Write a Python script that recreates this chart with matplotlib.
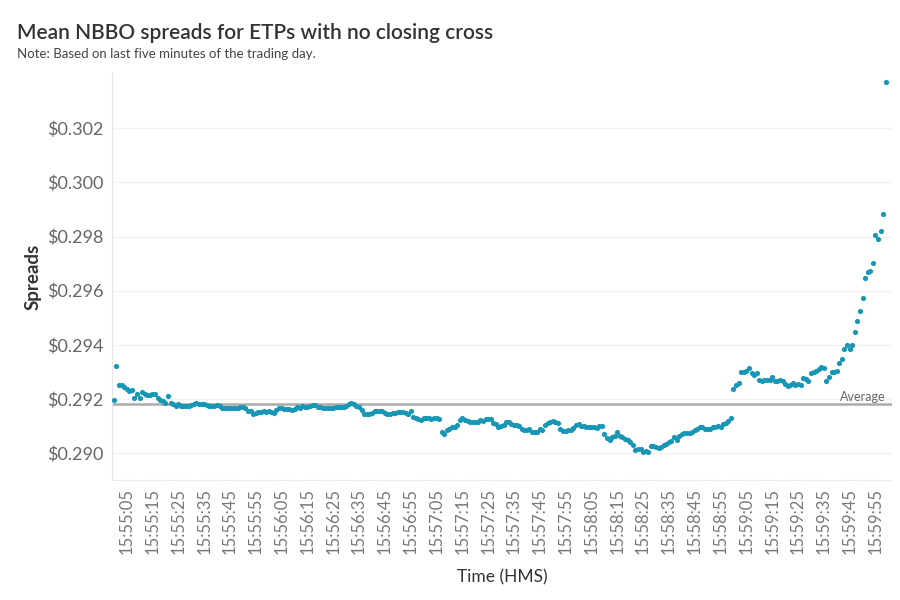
import numpy as np
import matplotlib.pyplot as plt

plt.rcParams['font.family'] = ['Lato', 'DejaVu Sans']

# mean NBBO spread per second, 15:55:00 .. 15:59:59
spreads = [
    0.29195, 0.29322, 0.29252, 0.29250, 0.29245, 0.29238, 0.29230, 0.29232, 0.29205, 0.29218,
    0.29205, 0.29225, 0.29218, 0.29213, 0.29215, 0.29218, 0.29218, 0.29205, 0.29198, 0.29192,
    0.29185, 0.29210, 0.29184, 0.29180, 0.29174, 0.29180, 0.29174, 0.29174, 0.29174, 0.29176,
    0.29178, 0.29180, 0.29184, 0.29182, 0.29182, 0.29180, 0.29178, 0.29174, 0.29174, 0.29176,
    0.29178, 0.29174, 0.29166, 0.29166, 0.29166, 0.29168, 0.29168,
    0.29168, 0.29168, 0.29169, 0.29169, 0.29166, 0.29157, 0.29155, 0.29145, 0.29150, 0.29153,
    0.29153, 0.29155, 0.29153, 0.29155, 0.29153, 0.29148, 0.29160, 0.29166, 0.29166, 0.29164,
    0.29162, 0.29162, 0.29160, 0.29164, 0.29169, 0.29168, 0.29174, 0.29172, 0.29169, 0.29176,
    0.29178, 0.29178, 0.29172, 0.29170, 0.29166, 0.29166, 0.29166, 0.29168, 0.29166, 0.29172,
    0.29172, 0.29170, 0.29172, 0.29174, 0.29182, 0.29184, 0.29182, 0.29176, 0.29170, 0.29160,
    0.29145, 0.29145, 0.29145, 0.29150,
    0.29156, 0.29156, 0.29156, 0.29155, 0.29148, 0.29145, 0.29145, 0.29148, 0.29148, 0.29153,
    0.29153, 0.29153, 0.29148, 0.29145, 0.29156, 0.29135, 0.29131, 0.29128, 0.29122, 0.29129,
    0.29131, 0.29131, 0.29128, 0.29131, 0.29131, 0.29126, 0.29078, 0.29070, 0.29086, 0.29088,
    0.29098, 0.29098, 0.29104, 0.29122, 0.29129, 0.29122, 0.29120, 0.29116, 0.29114, 0.29114,
    0.29114, 0.29122, 0.29120, 0.29125, 0.29125, 0.29127, 0.29112, 0.29107, 0.29098, 0.29100, 0.29104,
    0.29116, 0.29116, 0.29108, 0.29104, 0.29104, 0.29102, 0.29090, 0.29086, 0.29086, 0.29090,
    0.29077, 0.29077, 0.29079, 0.29088, 0.29086, 0.29104, 0.29112, 0.29116, 0.29118, 0.29116,
    0.29112, 0.29090, 0.29082, 0.29082, 0.29084, 0.29086, 0.29092, 0.29104, 0.29108, 0.29102,
    0.29100, 0.29098, 0.29098, 0.29098, 0.29096, 0.29092, 0.29100, 0.29100, 0.29070, 0.29057,
    0.29049, 0.29058, 0.29065, 0.29079, 0.29062, 0.29058, 0.29052, 0.29049, 0.29042, 0.29030, 0.29012,
    0.29014, 0.29016, 0.29006, 0.29008, 0.29006, 0.29027, 0.29027, 0.29022, 0.29018, 0.29022,
    0.29030, 0.29034, 0.29040, 0.29046, 0.29059, 0.29050, 0.29062, 0.29070, 0.29073, 0.29073,
    0.29076, 0.29078, 0.29086, 0.29088, 0.29095, 0.29098, 0.29088, 0.29088, 0.29090, 0.29098,
    0.29098, 0.29102, 0.29098, 0.29108, 0.29112, 0.29118, 0.29129,
    0.29236, 0.29252, 0.29258, 0.29301, 0.29301, 0.29302, 0.29313, 0.29295, 0.29290, 0.29295,
    0.29270, 0.29266, 0.29272, 0.29272, 0.29272, 0.29280, 0.29268, 0.29266, 0.29270, 0.29268,
    0.29255, 0.29248, 0.29252, 0.29258, 0.29252, 0.29254,
    0.29252, 0.29276, 0.29274, 0.29268, 0.29295, 0.29298, 0.29305, 0.29310, 0.29320, 0.29313,
    0.29268, 0.29282, 0.29298, 0.29298, 0.29305, 0.29332, 0.29346, 0.29383, 0.29399, 0.29383,
    0.29399, 0.29446, 0.29488, 0.29525, 0.29572, 0.29645, 0.29670, 0.29672, 0.29704, 0.29805,
    0.29789, 0.29820, 0.29882, 0.30369,
]
start_h, start_m, start_s = 15, 55, 0
yticks = [0.290, 0.292, 0.294, 0.296, 0.298, 0.300, 0.302]

secs = np.arange(len(spreads))
avg = np.mean(spreads)

def hms(t):
    tot = start_h * 3600 + start_m * 60 + start_s + int(t)
    return "%02d:%02d:%02d" % (tot // 3600, (tot // 60) % 60, tot % 60)

fig = plt.figure(figsize=(9, 6), dpi=100)
ax = fig.add_axes([0.1244, 0.2, 0.867, 0.678])

ax.scatter(secs, spreads, s=14, color='#1796b6', linewidths=0, zorder=3)
ax.axhline(avg, color='#aaaaaa', lw=1.8, zorder=2)
ax.text(len(spreads) - 1, avg + 0.00005, "Average", ha='right', va='bottom',
        fontsize=9, color='#666666')

ax.set_xlim(-0.7, len(spreads) + 1.5)
ax.set_ylim(0.28901, 0.30403)

ax.set_yticks(yticks)
ax.set_yticklabels(["$%.3f" % v for v in yticks], fontsize=13, color='#666666')
ticks = secs[5::10]
ax.set_xticks(ticks)
ax.set_xticklabels([hms(t) for t in ticks], rotation=90, fontsize=12, color='#777777')
ax.tick_params(length=0, pad=6)

ax.grid(axis='y', color='#f2f2f2', lw=1)
ax.set_axisbelow(True)
for side in ['top', 'right']:
    ax.spines[side].set_visible(False)
ax.spines['left'].set_color('#e6e6e6')
ax.spines['bottom'].set_color('#e6e6e6')
ax.spines['bottom'].set_linestyle(':')

ax.set_ylabel("Spreads", fontsize=13.5, fontweight='bold', color='#333333', labelpad=4)
ax.set_xlabel("Time (HMS)", fontsize=12.5, color='#333333', labelpad=11)

fig.text(0.019, 0.945, "Mean NBBO spreads for ETPs with no closing cross", fontsize=15,
         fontweight='semibold', color='#333333', va='center')
fig.text(0.019, 0.91, "Note: Based on last five minutes of the trading day.", fontsize=9.5,
         color='#444444', va='center')

fig.savefig("out.png", dpi=100)
